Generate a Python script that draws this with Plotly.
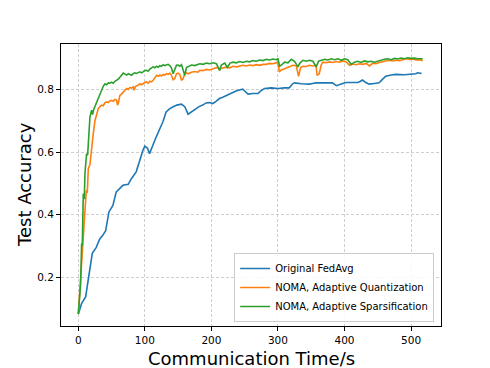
import plotly.graph_objects as go

# Czas komunikacji (s) i dokładność testowa dla każdej metody
czas_fedavg = [0, 5, 11, 16, 21, 27, 32, 37, 41, 46, 52, 57, 62, 67, 75, 80, 87, 92, 97, 100,
               104, 107, 112, 117, 122, 127, 132, 137, 142, 148, 155, 160, 165, 170, 175, 182,
               187, 192, 197, 202, 207, 212, 217, 222, 227, 232, 237, 242, 247, 250, 255, 262,
               270, 275, 280, 290, 300, 310, 317, 322, 325, 335, 347, 352, 357, 370, 382, 385,
               388, 395, 402, 410, 420, 424, 427, 432, 437, 445, 452, 457, 462, 470, 477, 490,
               502, 507, 510, 516]
acc_fedavg = [0.083, 0.117, 0.138, 0.21, 0.277, 0.296, 0.322, 0.335, 0.348, 0.409, 0.43, 0.473,
              0.485, 0.494, 0.497, 0.516, 0.537, 0.574, 0.605, 0.619, 0.612, 0.595, 0.625, 0.648,
              0.672, 0.696, 0.728, 0.738, 0.744, 0.75, 0.753, 0.745, 0.721, 0.728, 0.734, 0.746,
              0.75, 0.757, 0.758, 0.755, 0.762, 0.771, 0.775, 0.78, 0.787, 0.79, 0.795, 0.798,
              0.801, 0.795, 0.785, 0.787, 0.787, 0.797, 0.803, 0.805, 0.803, 0.805, 0.805, 0.818,
              0.821, 0.818, 0.817, 0.819, 0.821, 0.821, 0.821, 0.816, 0.812, 0.817, 0.822, 0.822,
              0.822, 0.826, 0.83, 0.822, 0.817, 0.819, 0.821, 0.832, 0.842, 0.846, 0.848, 0.847,
              0.848, 0.85, 0.853, 0.851]

czas_kwant = [0, 2, 4, 5, 7, 9, 10, 12, 13.5, 15, 17.5, 20, 22.5, 25, 27.5, 30, 32.5, 35, 37.5,
              40, 42.5, 45, 47.5, 50, 52.5, 55, 57.5, 59, 60, 62.5, 65, 67.5, 70, 72.5, 75, 77.5,
              80, 82.5, 84, 86, 90, 92.5, 95, 97.5, 100, 102.5, 105, 107.5, 110, 112.5, 115,
              117.5, 120, 122.5, 125, 127.5, 130, 132.5, 135, 137.5, 140, 142.5, 145, 147.5, 150,
              152.5, 155, 157.5, 160, 162.5, 165, 170, 175, 180, 182.5, 187.5, 192.5, 197.5,
              202.5, 207.5, 212.5, 217.5, 222.5, 227.5, 232.5, 237.5, 242.5, 247.5, 252.5, 257.5,
              262.5, 267.5, 272.5, 277.5, 282.5, 287.5, 292.5, 297.5, 300, 302, 305, 310, 315,
              320, 322.5, 327.5, 331, 334, 337.5, 342.5, 347.5, 352.5, 357, 359, 362, 365, 367.5,
              372.5, 377.5, 382.5, 387.5, 392.5, 397.5, 402.5, 407.5, 412.5, 417.5, 422.5, 427.5,
              432.5, 437.5, 442.5, 447.5, 452.5, 457.5, 462.5, 467.5, 472.5, 477.5, 482.5, 487.5,
              492.5, 497.5, 502.5, 507.5, 512.5, 517.5]
acc_kwant = [0.083, 0.15, 0.2, 0.223, 0.3, 0.36, 0.404, 0.478, 0.47, 0.547, 0.56, 0.62, 0.66,
             0.7, 0.725, 0.739, 0.745, 0.75, 0.748, 0.757, 0.76, 0.758, 0.763, 0.765, 0.762,
             0.768, 0.766, 0.75, 0.755, 0.781, 0.785, 0.79, 0.796, 0.803, 0.8, 0.806, 0.804,
             0.808, 0.797, 0.81, 0.813, 0.818, 0.815, 0.82, 0.822, 0.824, 0.82, 0.826, 0.824,
             0.829, 0.838, 0.845, 0.842, 0.846, 0.843, 0.848, 0.846, 0.85, 0.848, 0.852, 0.845,
             0.831, 0.835, 0.85, 0.852, 0.848, 0.829, 0.835, 0.85, 0.853, 0.85, 0.855, 0.857,
             0.855, 0.861, 0.86, 0.864, 0.862, 0.866, 0.87, 0.866, 0.868, 0.871, 0.869, 0.874,
             0.872, 0.875, 0.877, 0.875, 0.878, 0.876, 0.879, 0.877, 0.88, 0.88, 0.883, 0.882,
             0.886, 0.887, 0.856, 0.862, 0.866, 0.87, 0.875, 0.877, 0.876, 0.842, 0.87, 0.874,
             0.873, 0.877, 0.875, 0.877, 0.845, 0.85, 0.878, 0.887, 0.885, 0.888, 0.886, 0.889,
             0.887, 0.891, 0.888, 0.877, 0.881, 0.879, 0.882, 0.88, 0.883, 0.875, 0.884, 0.882,
             0.886, 0.888, 0.89, 0.893, 0.891, 0.893, 0.892, 0.895, 0.898, 0.896, 0.897, 0.894,
             0.895, 0.892]

czas_rzadk = [0, 2, 3.5, 5, 6, 7.5, 9, 10, 12.5, 14, 15.5, 17.5, 20, 21.5, 23, 25, 27.5, 30,
              32.5, 35, 37.5, 40, 42.5, 45, 47.5, 50, 52.5, 55, 57.5, 60, 62.5, 65, 67.5, 70,
              72.5, 75, 77.5, 80, 82.5, 85, 87.5, 90, 92.5, 95, 97.5, 100, 102.5, 105, 107.5,
              110, 112.5, 115, 117.5, 120, 122.5, 125, 127.5, 130, 132.5, 135, 137.5, 140, 142.5,
              145, 147.5, 150, 152.5, 155, 157.5, 160, 162.5, 165, 170, 175, 180, 182.5, 187.5,
              192.5, 197.5, 202.5, 207.5, 212.5, 215, 220, 224, 228, 232.5, 237.5, 242.5, 247.5,
              252.5, 257.5, 262.5, 267.5, 272.5, 277.5, 282.5, 287.5, 292.5, 297.5, 300, 302.5,
              306, 310, 315, 320, 325, 330, 333, 337.5, 342.5, 347.5, 352.5, 357.5, 361, 365,
              370, 375, 380, 385, 390, 395, 400, 405, 410, 415, 420, 425, 430, 435, 440, 445,
              450, 455, 460, 465, 470, 475, 480, 485, 490, 495, 500, 505, 510, 517.5]
acc_rzadk = [0.083, 0.14, 0.18, 0.308, 0.3, 0.468, 0.45, 0.532, 0.595, 0.59, 0.66, 0.712,
             0.734, 0.72, 0.735, 0.745, 0.76, 0.772, 0.787, 0.795, 0.81, 0.818, 0.815, 0.821,
             0.82, 0.823, 0.82, 0.826, 0.829, 0.833, 0.839, 0.845, 0.852, 0.849, 0.846, 0.85,
             0.848, 0.845, 0.85, 0.853, 0.851, 0.855, 0.856, 0.853, 0.858, 0.86, 0.861, 0.858,
             0.865, 0.868, 0.872, 0.869, 0.874, 0.871, 0.876, 0.874, 0.879, 0.876, 0.877, 0.88,
             0.876, 0.868, 0.85, 0.866, 0.877, 0.878, 0.874, 0.879, 0.865, 0.845, 0.87, 0.872,
             0.878, 0.876, 0.88, 0.882, 0.88, 0.884, 0.882, 0.885, 0.882, 0.86, 0.878, 0.884,
             0.87, 0.884, 0.887, 0.885, 0.889, 0.886, 0.89, 0.888, 0.892, 0.89, 0.894, 0.892,
             0.896, 0.894, 0.897, 0.895, 0.898, 0.874, 0.879, 0.887, 0.885, 0.896, 0.89, 0.872,
             0.884, 0.893, 0.89, 0.893, 0.89, 0.872, 0.89, 0.893, 0.896, 0.894, 0.898, 0.895,
             0.898, 0.893, 0.898, 0.895, 0.88, 0.887, 0.89, 0.886, 0.891, 0.888, 0.89, 0.887,
             0.891, 0.893, 0.896, 0.898, 0.895, 0.899, 0.897, 0.9, 0.898, 0.901, 0.899, 0.9,
             0.898, 0.898]

serie = [
    ("Original FedAvg", czas_fedavg, acc_fedavg, "#1f77b4"),
    ("NOMA, Adaptive Quantization", czas_kwant, acc_kwant, "#ff7f0e"),
    ("NOMA, Adaptive Sparsification", czas_rzadk, acc_rzadk, "#2ca02c"),
]

FONT = "DejaVu Sans"

fig = go.Figure()
for nazwa, x, y, kolor in serie:
    fig.add_trace(go.Scatter(x=x, y=y, mode="lines", name=nazwa,
                             line=dict(color=kolor, width=1.6)))

# Wspólny styl osi w stylu matplotlib
os_styl = dict(
    showline=True, linecolor="black", linewidth=1, mirror=True,
    ticks="outside", ticklen=4, tickcolor="black", tickwidth=1,
    showgrid=True, gridcolor="#cfcfcf", griddash="3px,2px", gridwidth=1,
    zeroline=False, automargin=False,
    tickfont=dict(size=10.5, color="black", family=FONT),
)

fig.update_xaxes(range=[-26, 545], tickvals=[0, 100, 200, 300, 400, 500], **os_styl)
fig.update_yaxes(range=[0.045, 0.945], tickvals=[0.2, 0.4, 0.6, 0.8], tickformat=".1f",
                 **os_styl)

# Tytuły osi jako adnotacje, żeby dokładnie ustawić ich położenie
tytul_font = dict(size=18, family=FONT, color="black")
fig.add_annotation(text="Communication Time/s", xref="paper", yref="paper", x=0.5, y=0,
                   xanchor="center", yanchor="middle", yshift=-32, showarrow=False,
                   font=tytul_font)
fig.add_annotation(text="Test Accuracy", xref="paper", yref="paper", x=0, y=0.5,
                   xanchor="center", yanchor="middle", xshift=-37, textangle=-90,
                   showarrow=False, font=tytul_font)

# Strona ma 8 px marginesu body, więc figura jest o tyle mniejsza
fig.update_layout(
    width=482, height=360,
    margin=dict(l=53, r=49, t=36, b=42),
    paper_bgcolor="white", plot_bgcolor="white",
    font=dict(family=FONT, color="black"),
    legend=dict(x=0.982, y=0.014, xanchor="right", yanchor="bottom",
                bgcolor="rgba(255,255,255,0.85)", bordercolor="#cccccc", borderwidth=1,
                font=dict(size=10, family=FONT), tracegroupgap=0, itemwidth=30),
)

fig.write_html("out.html")
